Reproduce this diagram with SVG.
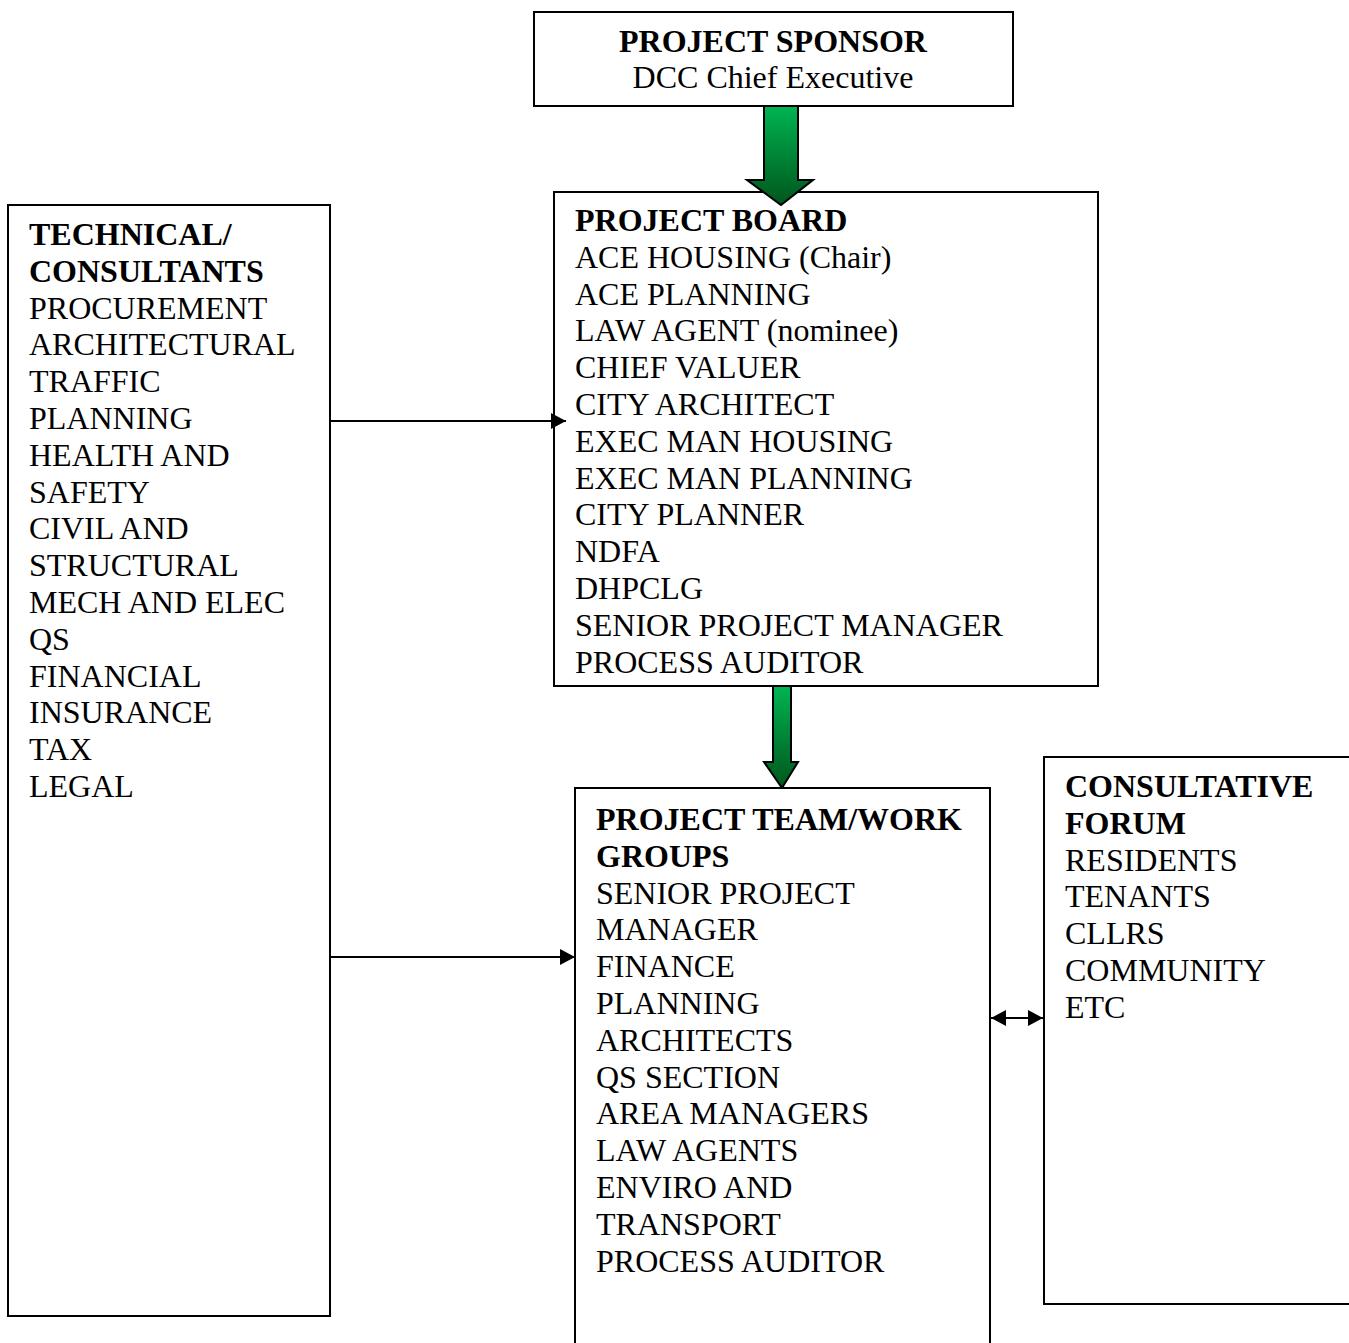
<svg xmlns="http://www.w3.org/2000/svg" width="1349" height="1343" viewBox="0 0 1349 1343">
<defs>
<style>
.box{fill:#fff;stroke:#000;stroke-width:2}
.t{font-family:"Liberation Serif","Times New Roman",serif;font-size:32px;fill:#000}
.b{font-weight:bold}
.ln{stroke:#000;stroke-width:2;fill:none}
.ga{fill:url(#grn);stroke:#000;stroke-width:2}
</style>
<linearGradient id="grn" x1="0" y1="0" x2="0" y2="1">
<stop offset="0" stop-color="#00b552"/>
<stop offset="1" stop-color="#00561c"/>
</linearGradient>
<marker id="ah" viewBox="0 0 15 16" refX="15" refY="8" markerWidth="15" markerHeight="16" markerUnits="userSpaceOnUse" orient="auto-start-reverse">
<path d="M0,0 L15,8 L0,16 Z" fill="#000"/>
</marker>
</defs>
<rect width="1349" height="1343" fill="#fff"/>
<g id="sponsor">
<rect class="box" x="534" y="12" width="479" height="94"/>
<text class="t" text-anchor="middle"><tspan class="b" x="773" y="52">PROJECT SPONSOR</tspan><tspan x="773" y="88">DCC Chief Executive</tspan></text>
</g>
<g id="board">
<rect class="box" x="554" y="192" width="544" height="494"/>
<text class="t">
<tspan class="b" x="575" y="231">PROJECT BOARD</tspan>
<tspan x="575" y="267.8">ACE HOUSING (Chair)</tspan>
<tspan x="575" y="304.6">ACE PLANNING</tspan>
<tspan x="575" y="341.4">LAW AGENT (nominee)</tspan>
<tspan x="575" y="378.2">CHIEF VALUER</tspan>
<tspan x="575" y="415">CITY ARCHITECT</tspan>
<tspan x="575" y="451.8">EXEC MAN HOUSING</tspan>
<tspan x="575" y="488.6">EXEC MAN PLANNING</tspan>
<tspan x="575" y="525.4">CITY PLANNER</tspan>
<tspan x="575" y="562.2">NDFA</tspan>
<tspan x="575" y="599">DHPCLG</tspan>
<tspan x="575" y="635.8">SENIOR PROJECT MANAGER</tspan>
<tspan x="575" y="672.6">PROCESS AUDITOR</tspan>
</text>
</g>
<g id="arrow-sponsor-board">
<path class="ga" d="M764,106 L798,106 L798,180 L813,180 L781,205 L747,180 L764,180 Z"/>
</g>
<g id="arrow-board-team">
<path class="ga" d="M773,686 L791,686 L791,762 L798,762 L782,788 L764,762 L773,762 Z"/>
</g>
<g id="technical">
<rect class="box" x="8" y="205" width="322" height="1111"/>
<text class="t">
<tspan class="b" x="29" y="245">TECHNICAL/</tspan>
<tspan class="b" x="29" y="281.8">CONSULTANTS</tspan>
<tspan x="29" y="318.6">PROCUREMENT</tspan>
<tspan x="29" y="355.4">ARCHITECTURAL</tspan>
<tspan x="29" y="392.2">TRAFFIC</tspan>
<tspan x="29" y="429">PLANNING</tspan>
<tspan x="29" y="465.8">HEALTH AND</tspan>
<tspan x="29" y="502.6">SAFETY</tspan>
<tspan x="29" y="539.4">CIVIL AND</tspan>
<tspan x="29" y="576.2">STRUCTURAL</tspan>
<tspan x="29" y="613">MECH AND ELEC</tspan>
<tspan x="29" y="649.8">QS</tspan>
<tspan x="29" y="686.6">FINANCIAL</tspan>
<tspan x="29" y="723.4">INSURANCE</tspan>
<tspan x="29" y="760.2">TAX</tspan>
<tspan x="29" y="797">LEGAL</tspan>
</text>
</g>
<g id="team">
<rect class="box" x="575" y="788" width="415" height="570"/>
<text class="t">
<tspan class="b" x="596" y="830">PROJECT TEAM/WORK</tspan>
<tspan class="b" x="596" y="866.8">GROUPS</tspan>
<tspan x="596" y="903.6">SENIOR PROJECT</tspan>
<tspan x="596" y="940.4">MANAGER</tspan>
<tspan x="596" y="977.2">FINANCE</tspan>
<tspan x="596" y="1014">PLANNING</tspan>
<tspan x="596" y="1050.8">ARCHITECTS</tspan>
<tspan x="596" y="1087.6">QS SECTION</tspan>
<tspan x="596" y="1124.4">AREA MANAGERS</tspan>
<tspan x="596" y="1161.2">LAW AGENTS</tspan>
<tspan x="596" y="1198">ENVIRO AND</tspan>
<tspan x="596" y="1234.8">TRANSPORT</tspan>
<tspan x="596" y="1271.6">PROCESS AUDITOR</tspan>
</text>
</g>
<g id="consultative">
<rect class="box" x="1044" y="757" width="320" height="547"/>
<text class="t">
<tspan class="b" x="1065" y="797">CONSULTATIVE</tspan>
<tspan class="b" x="1065" y="833.8">FORUM</tspan>
<tspan x="1065" y="870.6">RESIDENTS</tspan>
<tspan x="1065" y="907.4">TENANTS</tspan>
<tspan x="1065" y="944.2">CLLRS</tspan>
<tspan x="1065" y="981">COMMUNITY</tspan>
<tspan x="1065" y="1017.8">ETC</tspan>
</text>
</g>
<g id="connectors">
<line class="ln" x1="330" y1="421" x2="566" y2="421" marker-end="url(#ah)"/>
<line class="ln" x1="330" y1="957" x2="575" y2="957" marker-end="url(#ah)"/>
<line class="ln" x1="991" y1="1018" x2="1043" y2="1018" marker-start="url(#ah)" marker-end="url(#ah)"/>
</g>
</svg>
